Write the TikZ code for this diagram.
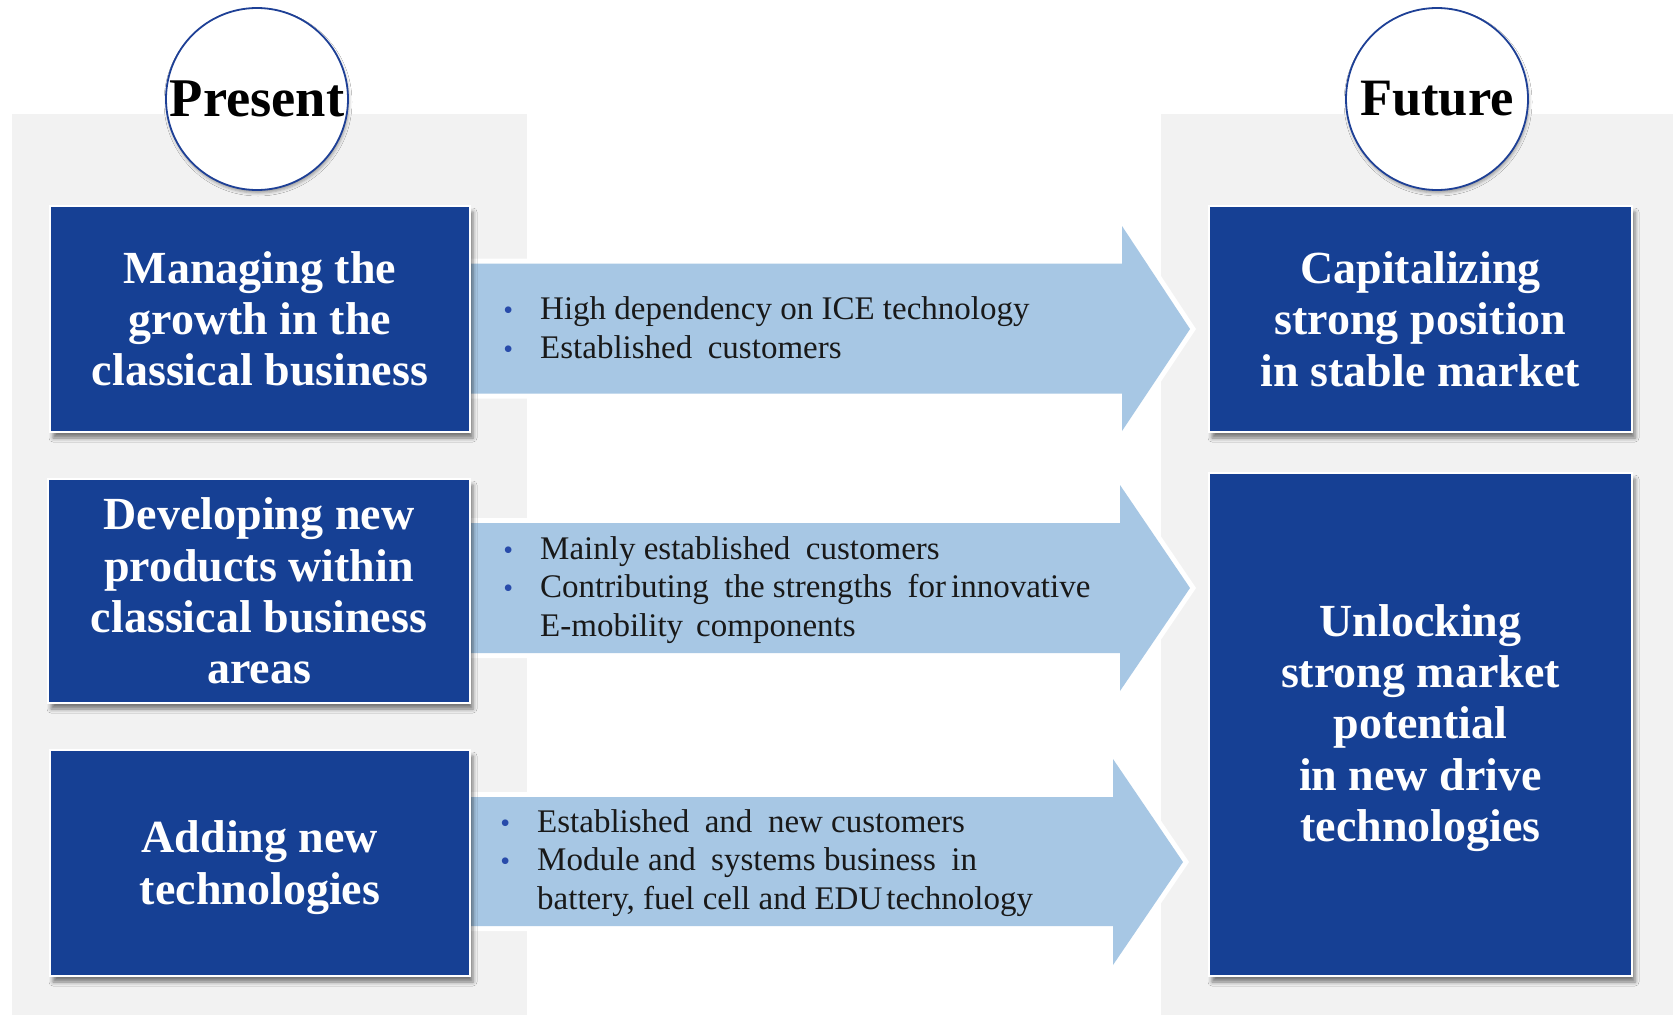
\documentclass[tikz,border=0pt]{standalone}
\usepackage{fontspec}
\setmainfont{Liberation Serif}
\usetikzlibrary{shadows.blur}
\definecolor{boxblue}{RGB}{22,64,148}
\definecolor{arrowblue}{RGB}{167,199,228}
\definecolor{panelgray}{RGB}{242,242,242}
\definecolor{ringblue}{RGB}{30,64,150}
\definecolor{bulletblue}{RGB}{40,75,170}
\newcommand\mybul{\llap{\textcolor{bulletblue}{\fontsize{28}{28}\selectfont\textbullet}\hspace{27pt}}}
\newcommand\ws{\hspace{15.5pt}}
\begin{document}
\begin{tikzpicture}[x=1pt,y=-1pt,
  panel/.style={fill=panelgray},
  bigbox/.style={rectangle, fill=boxblue, draw=white, line width=1.5pt, text=white,
    font=\fontsize{46}{51.3}\selectfont\bfseries, align=center, inner sep=0pt,
    blur shadow={shadow xshift=3pt, shadow yshift=-6pt, shadow opacity=50, shadow blur radius=4pt}},
  blockarrow/.style={fill=arrowblue, preaction={draw=white, line width=10pt, line join=miter}},
  ring/.style={circle, fill=white, draw=ringblue, line width=1.8pt, minimum size=182pt, inner sep=0pt,
    blur shadow={shadow xshift=1pt, shadow yshift=-3pt, shadow opacity=35, shadow blur radius=3pt}},
  ringlabel/.style={text=black, inner sep=0pt},
  bullets/.style={anchor=west, align=left, inner sep=0pt, font=\fontsize{33}{38.5}\selectfont, text=black!90}
]
\useasboundingbox (0,0) rectangle (1673,1015);
\fill[white] (0,0) rectangle (1673,1015);
% panels
\fill[panel] (11.7,114) rectangle (527,1015);
\fill[panel] (1161,114) rectangle (1673,1015);
% block arrows
\path[blockarrow] (462,263.5) -- (1122,263.5) -- (1122,226) -- (1190,329) -- (1122,431) -- (1122,393.5) -- (462,393.5) -- cycle;
\path[blockarrow] (462,523) -- (1120,523) -- (1120,485) -- (1190,588) -- (1120,691) -- (1120,653) -- (462,653) -- cycle;
\path[blockarrow] (462,797) -- (1113,797) -- (1113,759) -- (1183,862) -- (1113,965) -- (1113,926) -- (462,926) -- cycle;
% boxes
\node[bigbox, minimum width=420pt, minimum height=226pt] (b1) at (260,319) {Managing the\\growth in the\\classical business};
\node[bigbox, minimum width=422pt, minimum height=224pt] (b2) at (259,591) {Developing new\\products within\\classical business\\areas};
\node[bigbox, minimum width=420pt, minimum height=226pt] (b3) at (260,863) {\rule{0pt}{41pt}Adding new\\technologies};
\node[bigbox, minimum width=423pt, minimum height=226pt] (f1) at (1420.5,319) {Capitalizing\\strong position\\in stable market};
\node[bigbox, minimum width=423pt, minimum height=503pt] (f2) at (1420.5,724.5) {\rule{0pt}{39pt}Unlocking\\strong market\\potential\\in new drive\\technologies};
% rings
\node[ring] (pres) at (257,99) {};
\node[ringlabel, font=\fontsize{54.5}{60}\selectfont\bfseries] (presl) at (pres.center) {Present};
\node[ring] (fut) at (1437,99) {};
\node[ringlabel, font=\fontsize{52.5}{60}\selectfont\bfseries] (futl) at (fut.center) {Future};
% arrow texts
\node[bullets] (t1) at (540,327.5) {\mybul High dependency on ICE technology\\\mybul Established\ws customers};
\node[bullets] (t2) at (540,590) {\mybul Mainly established\ws customers\\\mybul Contributing\ws the strengths\ws for\hspace{5pt}innovative\\E-mobility\hspace{13pt}components};
\node[bullets] (t3) at (537,863) {\mybul Established\ws and\ws new customers\\\mybul Module and\ws systems business\ws in\\battery, fuel cell and EDU\hspace{4pt}technology};
\end{tikzpicture}
\end{document}
